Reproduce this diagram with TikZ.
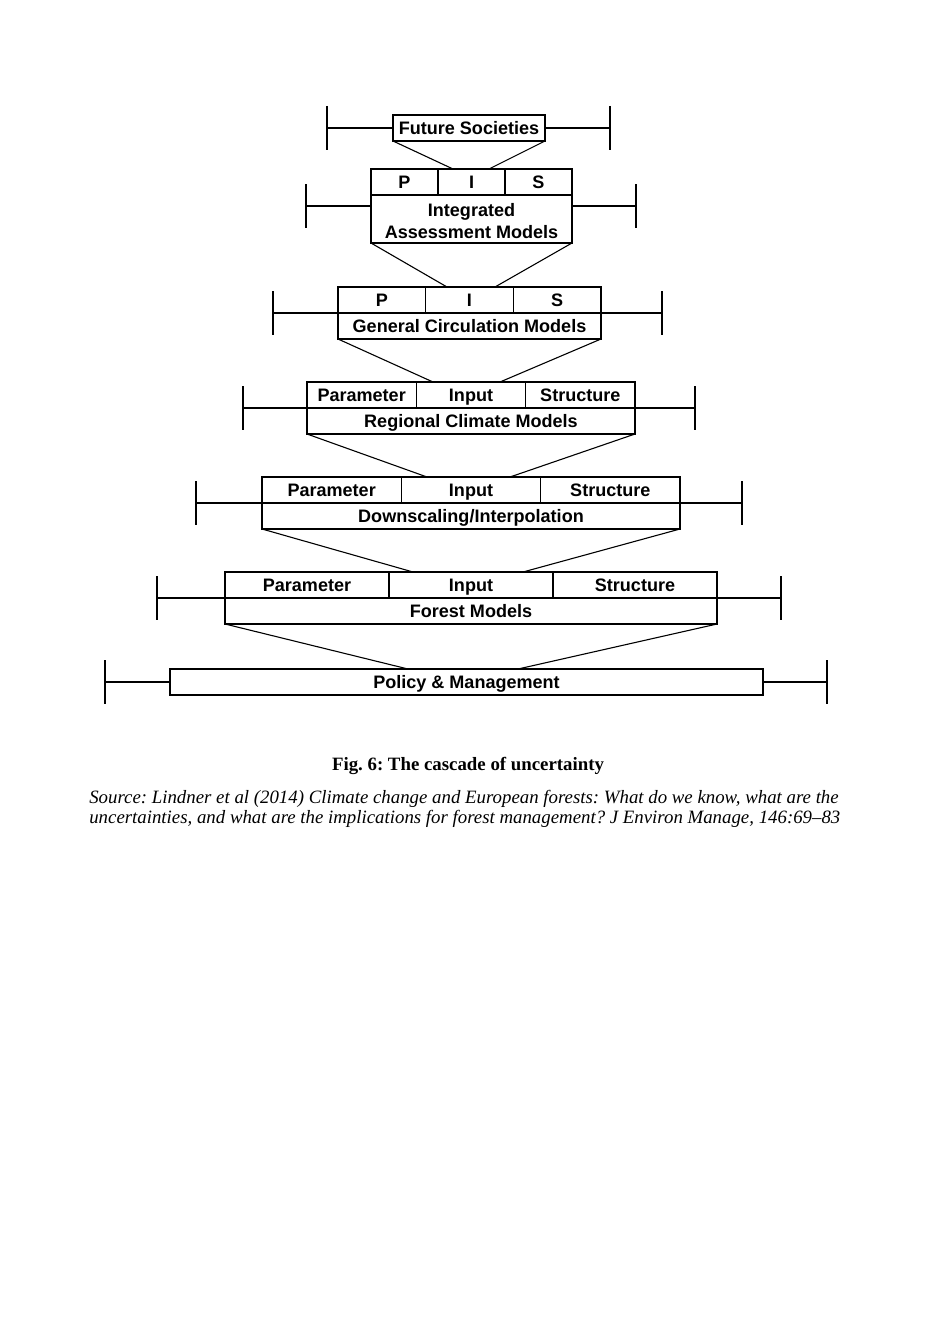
\documentclass[tikz,border=0pt]{standalone}
\usepackage{fontspec}
\setmainfont{Liberation Serif}
\newfontfamily\boxfont{Liberation Sans}
\newcommand\pxu{0.6373pt}
\frenchspacing
\begin{document}
\begin{tikzpicture}[x=0.6373pt,y=-0.6373pt,
  level/.style={draw,line width=1pt,inner sep=0pt,outer sep=0pt},
  cellbox/.style={draw,line width=1pt,inner sep=0pt,outer sep=0pt,anchor=north west,font=\boxfont\bfseries\fontsize{11.5}{14}\selectfont},
  cell/.style={cellbox,text height=10pt,text depth=1.8pt},
  conn/.style={line width=0.7pt},
  bar/.style={line width=1pt}]
\useasboundingbox (0,0) rectangle (934,1322);
% future societies
\node[level,font=\boxfont\bfseries\fontsize{11.5}{14}\selectfont,text height=10pt,text depth=1.8pt,minimum width=152*\pxu,minimum height=26*\pxu] (fs) at (469,128) {Future Societies};
% integrated assessment models
\node[level,minimum width=201*\pxu,minimum height=74*\pxu] (iam) at (471.5,206) {};
\node[cell,minimum width=67*\pxu,minimum height=26*\pxu] (iamP) at (iam.north west) {P};
\node[cell,minimum width=67*\pxu,minimum height=26*\pxu] (iamI) at (iamP.north east) {I};
\node[cell,minimum width=67*\pxu,minimum height=26*\pxu] (iamS) at (iamI.north east) {S};
\node[cellbox,align=center,minimum width=201*\pxu,minimum height=48*\pxu] (iamT) at (iamP.south west) {};
\node[font=\boxfont\bfseries\fontsize{11.5}{14}\selectfont,align=center,yshift=-1.6pt] (iamTxt) at (iamT.center) {Integrated\\Assessment Models};
% general circulation models
\node[level,minimum width=263*\pxu,minimum height=52*\pxu] (gcm) at (469.5,313) {};
\node[cell,minimum width=263/3*\pxu,minimum height=26*\pxu] (gcmP) at (gcm.north west) {P};
\node[cell,minimum width=263/3*\pxu,minimum height=26*\pxu] (gcmI) at (gcmP.north east) {I};
\node[cell,minimum width=263/3*\pxu,minimum height=26*\pxu] (gcmS) at (gcmI.north east) {S};
\node[cell,minimum width=263*\pxu,minimum height=26*\pxu] (gcmT) at (gcmP.south west) {General Circulation Models};
% regional climate models
\node[level,minimum width=328*\pxu,minimum height=52*\pxu] (rcm) at (471,408) {};
\node[cell,minimum width=328/3*\pxu,minimum height=26*\pxu] (rcmP) at (rcm.north west) {Parameter};
\node[cell,minimum width=328/3*\pxu,minimum height=26*\pxu] (rcmI) at (rcmP.north east) {Input};
\node[cell,minimum width=328/3*\pxu,minimum height=26*\pxu] (rcmS) at (rcmI.north east) {Structure};
\node[cell,minimum width=328*\pxu,minimum height=26*\pxu] (rcmT) at (rcmP.south west) {Regional Climate Models};
% downscaling
\node[level,minimum width=418*\pxu,minimum height=52*\pxu] (ds) at (471,503) {};
\node[cell,minimum width=418/3*\pxu,minimum height=26*\pxu] (dsP) at (ds.north west) {Parameter};
\node[cell,minimum width=418/3*\pxu,minimum height=26*\pxu] (dsI) at (dsP.north east) {Input};
\node[cell,minimum width=418/3*\pxu,minimum height=26*\pxu] (dsS) at (dsI.north east) {Structure};
\node[cell,minimum width=418*\pxu,minimum height=26*\pxu] (dsT) at (dsP.south west) {Downscaling/Interpolation};
% forest models
\node[level,minimum width=492*\pxu,minimum height=52*\pxu] (fm) at (471,598) {};
\node[cell,minimum width=492/3*\pxu,minimum height=26*\pxu] (fmP) at (fm.north west) {Parameter};
\node[cell,minimum width=492/3*\pxu,minimum height=26*\pxu] (fmI) at (fmP.north east) {Input};
\node[cell,minimum width=492/3*\pxu,minimum height=26*\pxu] (fmS) at (fmI.north east) {Structure};
\node[cell,minimum width=492*\pxu,minimum height=26*\pxu] (fmT) at (fmP.south west) {Forest Models};
% policy
\node[level,font=\boxfont\bfseries\fontsize{11.5}{14}\selectfont,text height=10pt,text depth=1.8pt,minimum width=593*\pxu,minimum height=26*\pxu] (pm) at (466.5,682) {Policy \& Management};
% bracket ends
\coordinate (fsL) at (327,128);  \coordinate (fsR) at (610,128);
\coordinate (iamL) at (306,206); \coordinate (iamR) at (636,206);
\coordinate (gcmL) at (273,313); \coordinate (gcmR) at (662,313);
\coordinate (rcmL) at (243,408); \coordinate (rcmR) at (695,408);
\coordinate (dsL) at (196,503);  \coordinate (dsR) at (742,503);
\coordinate (fmL) at (157,598);  \coordinate (fmR) at (781,598);
\coordinate (pmL) at (105,682);  \coordinate (pmR) at (827,682);
\foreach \n in {fs,iam,gcm,rcm,ds,fm,pm}{
  \draw[bar] (\n.west) -- (\n L) (\n.east) -- (\n R);
  \draw[bar] (\n L) ++(0,-22) -- ++(0,44);
  \draw[bar] (\n R) ++(0,-22) -- ++(0,44);
}
% funnel ends
\coordinate (iamA) at (453,169); \coordinate (iamB) at (489,169);
\coordinate (gcmA) at (447,287); \coordinate (gcmB) at (495,287);
\coordinate (rcmA) at (433,382); \coordinate (rcmB) at (500,382);
\coordinate (dsA) at (427,477);  \coordinate (dsB) at (510,477);
\coordinate (fmA) at (413,572);  \coordinate (fmB) at (523,572);
\coordinate (pmA) at (408,669);  \coordinate (pmB) at (518,669);
\draw[conn] (fs.south west) -- (iamA) (fs.south east) -- (iamB);
\draw[conn] (iam.south west) -- (gcmA) (iam.south east) -- (gcmB);
\draw[conn] (gcm.south west) -- (rcmA) (gcm.south east) -- (rcmB);
\draw[conn] (rcm.south west) -- (dsA) (rcm.south east) -- (dsB);
\draw[conn] (ds.south west) -- (fmA) (ds.south east) -- (fmB);
\draw[conn] (fm.south west) -- (pmA) (fm.south east) -- (pmB);
% caption
\node[font=\bfseries\fontsize{12}{14}\selectfont] (cap) at (468,766) {Fig. 6: The cascade of uncertainty};
\node[anchor=base west,inner sep=0pt,font=\itshape\fontsize{12}{14}\selectfont] (src1) at (89,803) {Source: Lindner et al (2014) Climate change and European forests: What do we know, what are the};
\node[anchor=base west,inner sep=0pt,font=\itshape\fontsize{12}{14}\selectfont] (src2) at (89,823) {uncertainties, and what are the implications for forest management? J Environ Manage, 146:69–83};
\end{tikzpicture}
\end{document}
